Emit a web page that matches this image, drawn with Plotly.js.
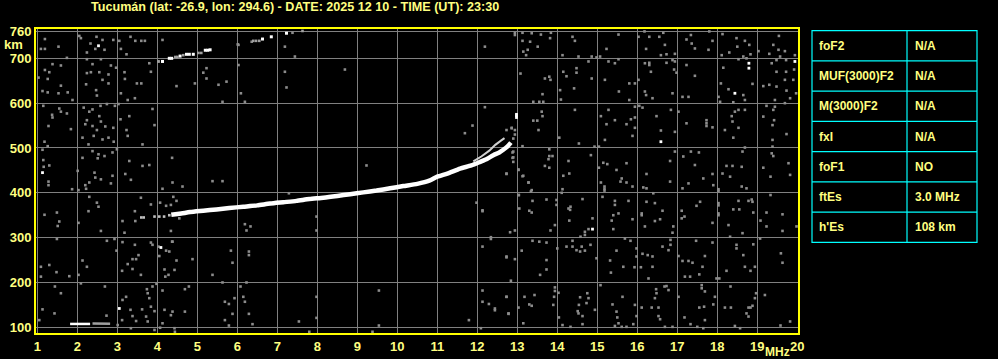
<!DOCTYPE html>
<html>
<head>
<meta charset="utf-8">
<script src="https://cdn.plot.ly/plotly-3.0.1.min.js"></script>
<style>html,body{margin:0;padding:0;background:#000;}#chart{width:998px;height:359px;}</style>
</head>
<body>
<div id="chart"></div>
<script>
// ---------- DATA ----------
const titleText = "Tucumán (lat: -26.9, lon: 294.6) - DATE: 2025 12 10 - TIME (UT): 23:30";
const freqTicks = [1,2,3,4,5,6,7,8,9,10,11,12,13,14,15,16,17,18,19,20];
const heightTicks = [100,200,300,400,500,600,700,760];

// main F-trace (ordinary)
const oFreq   = [4.35,4.6,4.82,5.15,5.48,5.8,6.15,6.5,6.82,7.15,7.48,7.8,8.15,8.5,8.82,9.15,9.48,9.82,10.15,10.5,10.8,11.0,11.25,11.57,11.85,12.07,12.25,12.4,12.55,12.65,12.75,12.84];
const oHeight = [351,354,357,360,363,366,369,372,376,379,382,386,389,393,397,401,405,410,415,420,427,436,443,454,461,469,476,484,490,496,503,512];
// second (extraordinary) branch near the cusp
const xFreq   = [11.9,12.1,12.3,12.45,12.6,12.68];
const xHeight = [470,481,494,507,517,522];
// fragments before the main trace
const preFreq   = [3.6,3.66,3.93,4.05,4.17,4.3];
const preHeight = [345,345,347,347,347,350];
// sporadic E
const esFreq   = [1.82,1.9,2.0,2.1,2.2,2.32];
const esHeight = [107.5,107.5,107.5,107.5,107.5,107.5];
const esGrayFreq   = [2.38,2.44,2.5,2.62,2.7,2.76,2.82];
const esGrayHeight = [108.5,108.5,108.5,108,108,108,108];
// second hop
const hopWhiteFreq   = [4.13,4.3,4.36,4.57,4.73,4.8,4.9,5.2,5.26,5.32,6.63,6.85,7.23];
const hopWhiteHeight = [693,700,700,705,709,709,709,718,718,719,743,748,756];
const hopGrayFreq   = [4.03,4.45,4.5,4.65,5.03,5.1,6.4,6.47,6.55,7.63];
const hopGrayHeight = [693,703,703,707,712,712,739,739,739,761];
// isolated bright dots
const brightDots = [[2.53,728],[1.13,445],[4.09,278],[3.05,142],[18.44,622],[18.79,689],[18.79,678],[19.94,693],[16.59,514],[14.88,319],[12.98,568],[12.98,572],[12.98,575]];
// gray noise dots [MHz, km]
const noiseDots = [
[1.19,743],[1.19,721],[1.09,721],[1.53,726],[2.05,750],[2.09,745],[2.33,733],[2.48,748],[2.63,741],[2.68,719],[2.90,741],[3.05,739],[3.09,721],[3.23,709],[3.33,748],[3.45,739],[3.60,739],[3.69,739],[4.13,741],[2.24,713],[2.45,721],
[1.38,687],[1.59,684],[1.19,674],[1.30,669],[1.26,654],[1.03,657],[1.13,627],[1.26,624],[1.59,639],[1.53,622],[1.76,624],[1.88,607],[1.74,701],[2.24,698],[2.38,687],[2.59,698],[2.84,684],[2.97,679],[2.78,664],[2.55,669],[2.34,669],[2.24,667],[2.22,642],[2.47,629],[2.49,617],[2.63,652],[2.78,644],[3.18,669],[3.19,654],[3.09,622],[3.26,607],[3.44,611],[3.49,644],[3.60,644],[3.80,689],[4.03,693],[3.84,670],
[1.15,594],[1.55,588],[1.59,581],[1.37,574],[1.38,568],[1.74,577],[1.28,549],[1.84,542],[1.18,514],[1.26,504],[2.16,590],[2.38,586],[2.58,594],[2.74,598],[2.94,594],[2.30,581],[2.55,571],[2.59,559],[2.24,562],[2.20,553],[2.38,549],[2.49,540],[2.70,548],[2.90,545],[2.13,523],[2.41,527],[2.63,519],[2.78,523],[2.91,514],[2.28,508],[3.08,564],[3.23,540],[3.26,527],[3.30,571],[3.88,587],[3.93,551],[3.63,508],[3.03,598],
[1.13,496],[1.15,473],[1.30,461],[1.28,425],[1.28,417],[1.16,458],[2.01,449],[2.13,478],[2.38,493],[2.53,486],[2.68,482],[2.88,490],[2.99,497],[2.51,477],[2.43,445],[2.59,430],[2.45,434],[2.84,421],[2.88,438],[2.20,417],[2.30,423],[1.87,408],[2.03,406],[2.22,409],[3.20,442],[3.30,471],[3.34,429],[3.63,460],[3.80,462],[4.37,478],[4.38,423],[4.13,409],
[3.59,389],[1.18,351],[1.49,356],[1.55,336],[1.51,326],[2.03,333],[2.49,378],[2.53,369],[2.30,391],[2.28,359],[2.59,315],[3.13,337],[3.18,311],[3.44,359],[3.45,337],[3.84,374],[4.07,378],[4.22,371],[4.34,315],[4.40,391],
[1.49,297],[1.09,235],[1.30,239],[1.80,214],[1.48,223],[1.09,213],[2.03,217],[2.13,249],[2.24,235],[2.74,293],[2.93,297],[2.98,271],[3.13,290],[3.12,226],[3.38,252],[3.47,252],[3.53,261],[3.44,284],[3.26,241],[3.38,230],[3.59,217],[3.84,289],[3.88,284],[4.03,280],[4.05,259],[4.22,271],[4.30,269],[4.37,291],[4.18,229],[4.20,213],[4.28,217],[4.43,228],
[1.13,140],[1.44,191],[1.59,176],[1.05,116],[1.43,131],[2.09,198],[2.69,191],[2.73,126],[3.13,161],[3.22,168],[3.12,116],[3.33,139],[3.38,125],[3.47,114],[3.62,140],[3.74,185],[3.76,176],[3.80,165],[3.88,191],[3.84,146],[3.93,136],[3.72,124],[3.76,113],[3.98,197],[4.13,182],[4.18,139],[4.13,109],[4.34,127],[3.01,105],[3.34,98],[3.93,94],[4.07,99],
[12.94,757],[13.13,757],[13.36,756],[13.59,753],[13.84,757],[13.13,739],[13.32,737],[13.51,726],[13.82,745],[13.26,719],[13.15,715],[13.22,707],[14.13,707],[14.53,704],[14.86,704],[15.07,704],[14.38,748],[14.44,739],[15.23,721],[15.53,753],[16.03,748],[16.18,760],[16.30,748],[16.55,748],[16.65,757],[16.69,730],[16.22,721],[16.59,707],[16.73,709],[16.94,710],[17.34,752],[17.36,733],[17.44,722],[17.23,742],[17.80,760],[17.78,719],[17.88,739],[18.13,754],[18.48,745],[18.50,726],[18.69,739],[18.80,730],[18.83,709],[19.03,716],[18.30,713],[18.11,707],[18.65,704],[19.30,710],[19.54,750],[19.53,719],[19.69,716],[19.94,707],[19.40,730],
[13.08,666],[13.69,655],[13.80,659],[13.83,652],[13.63,620],[13.40,603],[13.55,603],[13.65,603],[14.07,629],[14.09,608],[14.15,670],[14.23,660],[14.48,678],[14.48,668],[14.42,633],[14.78,693],[14.86,655],[14.98,702],[15.19,652],[15.28,693],[15.44,689],[15.53,698],[15.54,626],[15.80,644],[15.94,644],[15.80,607],[16.03,652],[16.19,689],[16.30,690],[16.30,685],[16.19,626],[16.22,618],[16.34,670],[16.38,611],[16.73,690],[16.88,696],[16.94,693],[16.92,675],[16.98,668],[16.88,622],[17.23,685],[17.13,614],[17.28,614],[17.44,661],[18.03,614],[18.07,603],[18.09,644],[18.15,679],[18.28,631],[18.40,602],[18.69,607],[18.88,643],[19.15,638],[19.30,641],[19.36,689],[19.48,696],[19.48,670],[19.57,704],[19.72,696],[19.72,670],[19.69,652],[19.73,628],[19.90,652],[19.92,675],[19.97,622],[19.82,611],[19.48,637],[19.44,607],[18.73,700],[18.53,698],
[13.61,581],[13.40,561],[13.50,561],[13.63,571],[13.53,540],[12.86,544],[12.94,540],[12.73,540],[12.90,521],[14.05,523],[14.44,585],[14.54,510],[15.09,571],[15.28,585],[15.23,553],[15.19,518],[15.44,562],[15.73,553],[15.84,564],[15.94,568],[15.94,592],[15.88,527],[16.05,594],[16.13,590],[15.94,545],[16.48,571],[16.59,539],[16.84,585],[17.03,581],[16.94,536],[17.23,555],[17.73,562],[17.73,555],[17.73,549],[17.88,546],[18.19,540],[18.36,571],[18.38,559],[18.44,581],[18.53,585],[18.69,585],[18.53,545],[18.40,523],[19.15,570],[19.23,594],[19.40,585],[19.42,562],[19.38,551],[19.44,592],[19.69,600],[19.73,531],[19.38,518],[18.65,618],
[13.13,504],[12.88,490],[12.88,478],[12.73,442],[13.03,452],[13.15,438],[13.80,497],[13.80,482],[13.88,482],[13.78,475],[13.69,460],[13.80,456],[14.28,471],[14.15,438],[14.30,443],[14.84,484],[14.93,503],[15.04,503],[15.04,456],[15.15,467],[15.25,464],[15.48,451],[15.73,466],[16.23,442],[15.61,432],[16.82,471],[16.94,492],[17.15,481],[17.44,462],[17.34,492],[17.54,490],[17.88,442],[17.65,432],[18.23,460],[18.38,460],[18.61,458],[18.63,492],[18.69,501],[18.13,443],[18.32,436],[19.15,456],[19.36,488],[19.38,503],[19.40,482],[19.33,436],[19.78,466],[19.82,440],
[13.28,423],[13.36,406],[13.34,403],[13.04,395],[13.05,365],[12.82,312],[12.94,316],[13.30,360],[13.36,356],[13.38,382],[13.73,385],[13.94,328],[13.83,316],[13.98,384],[13.98,373],[14.13,408],[14.11,400],[14.28,365],[14.32,362],[14.33,369],[14.30,338],[14.63,386],[14.88,343],[14.78,319],[14.69,313],[14.58,302],[14.69,306],[15.09,423],[15.18,414],[15.18,409],[15.18,405],[15.58,425],[15.73,423],[15.88,414],[15.44,382],[15.44,373],[15.78,382],[15.13,391],[15.53,354],[15.40,350],[15.36,338],[15.40,319],[15.88,341],[16.11,350],[16.11,354],[16.23,380],[16.44,377],[16.63,360],[16.57,341],[16.44,337],[16.19,325],[16.15,412],[16.23,410],[16.40,399],[16.82,425],[17.13,410],[17.28,421],[17.48,371],[17.57,380],[17.11,360],[17.18,347],[17.11,343],[16.88,311],[16.90,325],[17.90,417],[18.03,408],[18.03,404],[18.03,377],[18.03,372],[18.03,354],[18.03,350],[17.88,333],[18.28,328],[18.40,363],[18.55,363],[18.53,382],[18.63,310],[18.61,414],[18.73,410],[18.86,385],[18.90,356],[18.88,380],[18.78,382],[19.23,356],[19.33,395],[19.63,352],[19.63,315],[19.08,338],[19.23,325],[19.98,325],[18.32,302],
[13.38,293],[13.55,291],[13.73,289],[13.11,271],[12.73,256],[12.94,252],[13.73,250],[13.73,229],[13.57,217],[14.00,276],[14.23,280],[14.38,293],[14.38,280],[14.48,272],[14.57,269],[14.61,280],[14.69,271],[14.83,284],[14.98,254],[15.32,249],[15.48,271],[15.34,222],[15.65,235],[15.93,234],[15.69,298],[15.83,293],[15.98,276],[15.98,258],[16.09,234],[16.13,264],[16.26,261],[16.38,258],[16.38,235],[16.28,209],[16.63,280],[16.78,272],[16.83,284],[16.83,295],[17.03,259],[17.13,248],[17.28,248],[17.38,244],[17.47,293],[17.19,213],[17.32,213],[17.55,218],[17.63,235],[17.69,259],[17.88,289],[17.98,209],[18.05,209],[18.23,226],[18.48,284],[18.48,276],[18.65,261],[18.69,235],[18.83,226],[18.94,235],[18.90,285],[19.59,265],[19.63,244],[19.07,298],
[12.84,204],[12.73,168],[13.18,168],[13.43,172],[13.30,151],[13.36,148],[13.03,144],[12.78,130],[13.15,109],[13.90,150],[13.94,189],[13.94,181],[14.03,177],[13.92,168],[14.04,122],[14.13,105],[14.33,101],[14.54,150],[14.57,167],[14.51,136],[14.53,131],[14.75,176],[14.78,165],[14.73,154],[14.63,125],[14.63,107],[14.94,139],[15.08,194],[15.48,135],[15.50,122],[15.63,168],[15.38,151],[15.53,109],[15.44,103],[15.61,101],[15.73,101],[15.94,150],[15.98,125],[15.90,107],[16.11,144],[16.36,144],[16.44,165],[16.47,185],[16.48,176],[16.53,144],[16.53,125],[16.57,118],[16.68,191],[16.73,192],[16.78,183],[16.69,101],[16.88,101],[17.03,168],[17.18,122],[17.33,107],[17.50,101],[17.61,194],[17.61,187],[17.69,180],[17.67,146],[17.55,144],[17.69,116],[17.65,98],[17.94,168],[17.90,151],[18.19,144],[18.33,191],[18.34,144],[18.44,103],[18.57,98],[18.78,144],[18.73,131],[18.78,124],[18.83,144],[18.88,148],[18.97,176],[18.94,165],[19.19,172],[19.58,104],[19.82,113],
[4.63,414],[4.48,382],[4.34,373],[4.55,343],[6.19,330],[6.33,325],[6.23,316],[4.38,291],[5.84,271],[6.29,269],[6.29,261],[4.48,249],[4.88,252],[5.88,244],[5.38,217],[5.63,200],[6.23,200],[6.08,191],[4.69,185],[4.79,191],[5.93,165],[5.69,157],[5.79,152],[6.15,168],[6.19,157],[4.38,135],[4.69,135],[5.88,130],[6.29,130],[5.69,116],[5.79,104],[6.38,107],[4.43,98],[4.44,90],[7.29,399],[7.98,347],[7.98,316],[7.98,168],[7.98,121],[7.54,113],[7.80,90],[9.38,90],[9.54,182],[9.54,104],[11.98,378],[12.13,359],[12.34,301],[12.34,297],[12.13,280],[12.73,258],[12.13,182],[12.13,157],[12.29,152],[12.44,142],[12.44,138],[12.73,168],[12.78,131],[11.79,116],[12.09,98],[5.38,426],[5.63,426],
[9.23,461],[12.19,591],[11.88,550],[11.69,533],[12.86,545],[12.94,530],[12.9,492],[12.9,479],[12.9,469],[13.03,451],[13.13,437],[13.28,423],[13.03,395],[12.73,443],[12.13,361],
[6.03,730],[6.36,737],[7.19,726],[7.38,757],[7.44,704],[8.69,675],[7.19,670],[7.23,635],[6.09,622],[6.19,603],[6.03,685],[5.73,648],[5.53,641],[5.23,678],[5.23,655],[5.15,668],[4.94,644],[4.48,638],[5.63,603],[12.19,726],[12.94,752],[6.01,731]
];
// parameter table
const tableLabels = ["foF2","MUF(3000)F2","M(3000)F2","fxI","foF1","ftEs","h'Es"];
const tableValues = ["N/A","N/A","N/A","N/A","NO","3.0 MHz","108 km"];

// ---------- LAYOUT GEOMETRY ----------
const L = 36, R = 798, T = 29, B = 333;
const PW = R - L, PH = B - T;
const px = v => (v - L) / PW;          // pixel x -> paper
const py = v => (B - v) / PH;          // pixel y -> paper
const TXT = '#ffff80', YEL = '#ffff00', GRID = '#808080', CYAN = '#00ffff';
const FONT = 'Liberation Sans, Arial, sans-serif';

const traces = [
  {x: noiseDots.map(d=>d[0]), y: noiseDots.map(d=>d[1]), mode:'markers', type:'scatter',
   marker:{symbol:'square', size:2.6, color:'#8c8c8c', line:{width:0}}},
  {x: esGrayFreq, y: esGrayHeight, mode:'lines', line:{color:'#a0a0a0', width:2.5}},
  {x: esFreq, y: esHeight, mode:'lines', line:{color:'#ffffff', width:2.5}},
  {x: preFreq, y: preHeight, mode:'markers', marker:{symbol:'square', size:2.6, color:'#c0c0c0'}},
  {x: hopGrayFreq, y: hopGrayHeight, mode:'markers', marker:{symbol:'square', size:2.6, color:'#a0a0a0'}},
  {x: hopWhiteFreq, y: hopWhiteHeight, mode:'markers', marker:{symbol:'square', size:3, color:'#ffffff'}},
  {x: xFreq, y: xHeight, mode:'lines', line:{color:'#d0d0d0', width:2}},
  {x: oFreq, y: oHeight, mode:'lines', line:{color:'#ffffff', width:4.5, shape:'spline', smoothing:0.6}},
  {x: brightDots.map(d=>d[0]), y: brightDots.map(d=>d[1]), mode:'markers',
   marker:{symbol:'square', size:2.8, color:'#ffffff'}}
];

// table shapes & text
const rowTop = 30.7, rowH = 30.25, tLeft = 812, tMid = 907, tRight = 977;
const nRows = tableLabels.length;
const shapes = [];
shapes.push({type:'rect', xref:'paper', yref:'paper', x0:px(tLeft), x1:px(tRight),
  y0:py(rowTop), y1:py(rowTop + rowH*nRows), line:{color:CYAN, width:1.2}});
shapes.push({type:'line', xref:'paper', yref:'paper', x0:px(tMid), x1:px(tMid),
  y0:py(rowTop), y1:py(rowTop + rowH*nRows), line:{color:CYAN, width:1.2}});
for (let i = 1; i < nRows; i++) {
  shapes.push({type:'line', xref:'paper', yref:'paper', x0:px(tLeft), x1:px(tRight),
    y0:py(rowTop + rowH*i), y1:py(rowTop + rowH*i), line:{color:CYAN, width:1.2}});
}
const annotations = [];
tableLabels.forEach((lab, i) => {
  const yc = py(rowTop + rowH*(i+0.5));
  annotations.push({text:lab, xref:'paper', yref:'paper', x:px(817), y:yc, xanchor:'left', yanchor:'middle',
    showarrow:false, font:{family:FONT, size:12, color:TXT, weight:'bold'}});
  annotations.push({text:tableValues[i], xref:'paper', yref:'paper', x:px(912.5), y:yc, xanchor:'left', yanchor:'middle',
    showarrow:false, font:{family:FONT, size:12, color:TXT, weight:'bold'}});
});
annotations.push({text:titleText, xref:'paper', yref:'paper', x:px(295), y:py(7), xanchor:'center', yanchor:'middle',
  showarrow:false, font:{family:FONT, size:12.6, color:TXT, weight:'bold'}});
annotations.push({text:'km', xref:'paper', yref:'paper', x:px(13.5), y:py(44.5), xanchor:'center', yanchor:'middle',
  showarrow:false, font:{family:FONT, size:13, color:TXT, weight:'bold'}});
annotations.push({text:'MHz', xref:'paper', yref:'paper', x:px(777), y:py(352), xanchor:'center', yanchor:'middle',
  showarrow:false, font:{family:FONT, size:12, color:TXT, weight:'bold'}});

const xmin = 1 - 1.3/40, xmax = xmin + PW/40;
const kmPerPx = 1/0.4483;
const ymin = 100 - (B - 327.3)*kmPerPx, ymax = ymin + PH*kmPerPx;

const layout = {
  width: 998, height: 359,
  margin: {l:L, r:998-R, t:T, b:359-B, pad:0},
  paper_bgcolor:'#000', plot_bgcolor:'#000',
  showlegend:false, hovermode:false,
  font:{family:FONT, color:TXT},
  xaxis:{range:[xmin, xmax], tickmode:'array', tickvals:freqTicks, ticktext:freqTicks.map(String),
    showgrid:true, gridcolor:GRID, gridwidth:1, zeroline:false,
    showline:true, mirror:true, linecolor:YEL, linewidth:2, ticks:'',
    tickfont:{family:FONT, size:13, color:TXT, weight:'bold'}},
  yaxis:{range:[ymin, ymax], tickmode:'array', tickvals:heightTicks, ticktext:heightTicks.map(String),
    showgrid:true, gridcolor:GRID, gridwidth:1, zeroline:false,
    showline:true, mirror:true, linecolor:YEL, linewidth:2, ticks:'',
    tickfont:{family:FONT, size:13, color:TXT, weight:'bold'}},
  shapes: shapes,
  annotations: annotations
};

Plotly.newPlot('chart', traces.map(t => Object.assign({type:'scatter', hoverinfo:'skip'}, t)), layout,
  {staticPlot:true, displayModeBar:false});
</script>
</body>
</html>
